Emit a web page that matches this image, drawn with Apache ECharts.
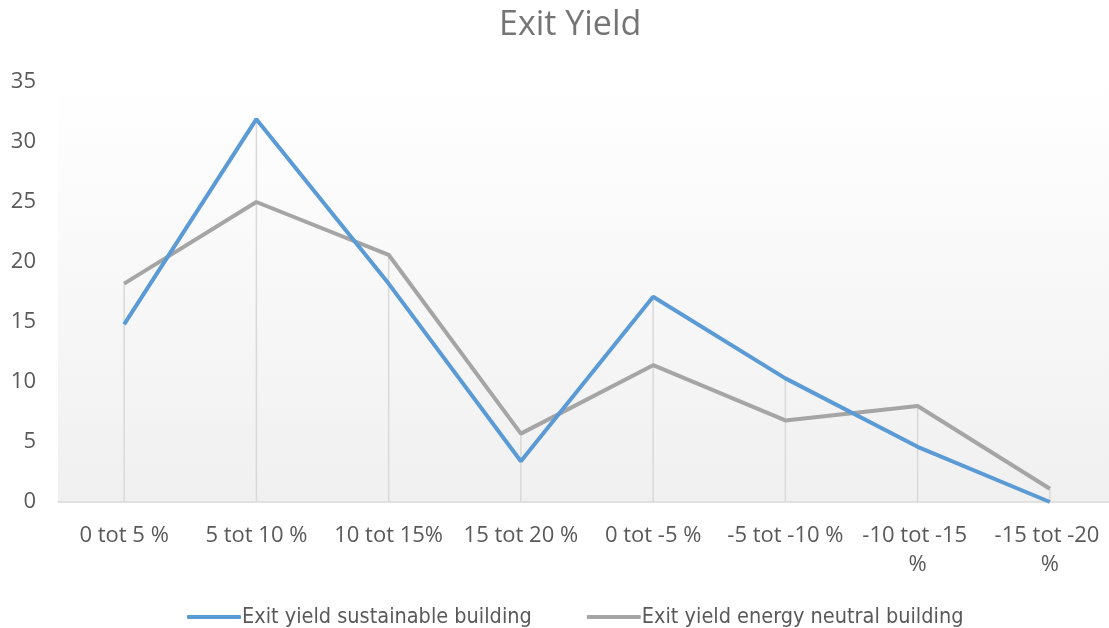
<!DOCTYPE html>
<html>
<head>
<meta charset="utf-8">
<script src="https://cdn.jsdelivr.net/npm/echarts@6/dist/echarts.min.js"></script>
<style>
  html, body { margin: 0; padding: 0; background: #fff; }
  #main { width: 1109px; height: 628px; }
</style>
</head>
<body>
<div id="main"></div>
<script>
var categories = ['0 tot 5 %', '5 tot 10 %', '10 tot 15%', '15 tot 20 %', '0 tot -5 %', '-5 tot -10 %', '-10 tot -15 %', '-15 tot -20 %'];
var sustainable = [14.8, 31.9, 18.2, 3.4, 17.1, 10.3, 4.6, 0];
var energyNeutral = [18.2, 25.0, 20.6, 5.7, 11.4, 6.8, 8.0, 1.1];
var yTicks = [0, 5, 10, 15, 20, 25, 30, 35];

// drop lines reach the highest of both series
var dropLines = [];
for (var i = 0; i < categories.length; i++) {
    dropLines.push(Math.max(sustainable[i], energyNeutral[i]));
}

var myChart = echarts.init(document.getElementById('main'));
var font = 'Open Sans';

var option = {
    animation: false,
    title: {
        text: 'Exit Yield',
        left: 494,
        top: 3,
        textStyle: {
            color: '#757575',
            fontSize: 34,
            fontWeight: 'normal',
            fontFamily: font
        }
    },
    legend: {
        top: 601,
        left: 182,
        itemWidth: 54,
        itemHeight: 4,
        itemGap: 55,
        data: [
            {name: 'Exit yield sustainable building', icon: 'roundRect'},
            {name: 'Exit yield energy neutral building', icon: 'roundRect'}
        ],
        textStyle: {
            color: '#595959',
            fontSize: 21.5,
            fontFamily: 'DejaVu Sans Condensed',
            padding: [0, 0, 0, -4]
        }
    },
    grid: {
        left: 58,
        width: 1058,
        top: 82,
        bottom: 126,
        outerBoundsMode: 'none',
        containLabel: false,
        show: true,
        borderWidth: 0,
        backgroundColor: new echarts.graphic.LinearGradient(0, 0, 0, 1, [
            {offset: 0, color: '#ffffff'},
            {offset: 1, color: '#f0f0f0'}
        ])
    },
    xAxis: {
        type: 'category',
        data: categories,
        boundaryGap: true,
        axisLine: {lineStyle: {color: '#d9d9d9', width: 1.5}},
        axisTick: {show: false},
        axisLabel: {
            color: '#595959',
            fontSize: 22,
            fontFamily: font,
            margin: 19,
            interval: 0,
            width: 122,
            overflow: 'break',
            lineHeight: 29
        }
    },
    yAxis: {
        type: 'value',
        min: yTicks[0],
        max: yTicks[yTicks.length - 1],
        interval: 5,
        axisLine: {show: false},
        axisTick: {show: false},
        splitLine: {show: false},
        axisLabel: {
            color: '#595959',
            fontSize: 22,
            fontFamily: font,
            margin: 22
        }
    },
    series: [
        {
            name: 'drop',
            type: 'bar',
            data: dropLines,
            barWidth: 1.5,
            barGap: '-100%',
            silent: true,
            itemStyle: {color: '#d9d9d9'},
            z: 1
        },
        {
            name: 'Exit yield sustainable building',
            type: 'line',
            data: sustainable,
            symbol: 'none',
            lineStyle: {color: '#5b9bd5', width: 4},
            itemStyle: {color: '#5b9bd5'},
            z: 3
        },
        {
            name: 'Exit yield energy neutral building',
            type: 'line',
            data: energyNeutral,
            symbol: 'none',
            lineStyle: {color: '#a5a5a5', width: 4},
            itemStyle: {color: '#a5a5a5'},
            z: 2
        }
    ]
};

myChart.setOption(option);
</script>
</body>
</html>
